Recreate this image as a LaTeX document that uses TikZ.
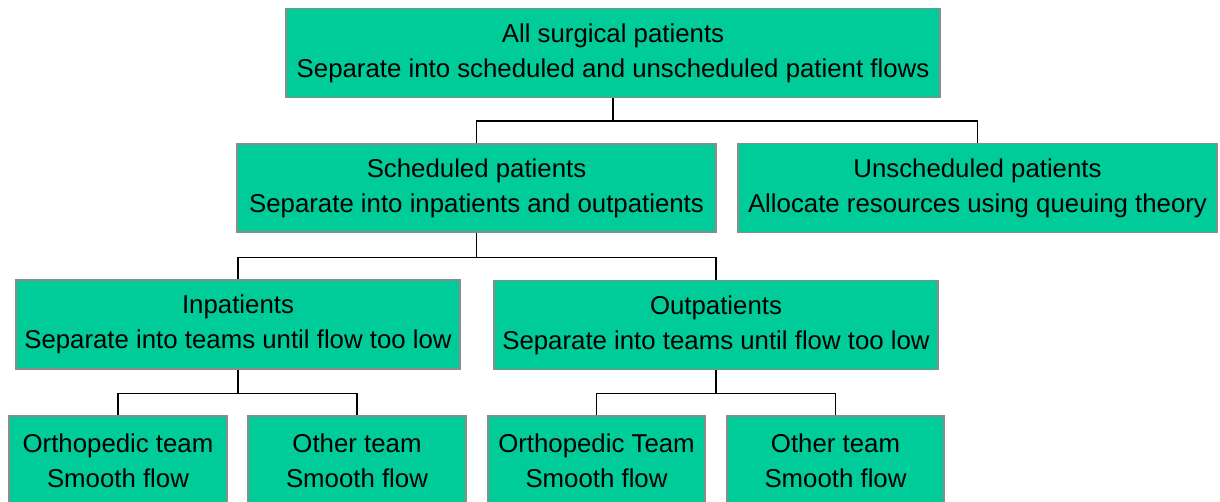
\documentclass[tikz,border=0pt]{standalone}
\usepackage{fontspec}
\setmainfont{Liberation Sans}
\definecolor{boxfill}{RGB}{0,204,153}
\definecolor{boxline}{RGB}{140,140,140}
\begin{document}
\begin{tikzpicture}[x=1pt,y=-1pt,
  box/.style={draw=boxline, line width=1.6pt, fill=boxfill, inner sep=0pt, align=center,
    font=\fontsize{25.8}{35}\selectfont, text=black},
  conn/.style={draw=black, line width=1.6pt}]
\useasboundingbox (0,0) rectangle (1220,502);
\node[box, minimum width=654pt, minimum height=89pt] (top) at (613,53) {All surgical patients\\Separate into scheduled and unscheduled patient flows};
\node[box, minimum width=479pt, minimum height=88.5pt] (sched) at (476.5,188) {Scheduled patients\\Separate into inpatients and outpatients};
\node[box, minimum width=479pt, minimum height=89pt] (unsched) at (977.5,188) {Unscheduled patients\\Allocate resources using queuing theory};
\node[box, minimum width=444pt, minimum height=89pt] (inpat) at (238,324.5) {Inpatients\\Separate into teams until flow too low};
\node[box, minimum width=444pt, minimum height=89pt] (outpat) at (716,325) {Outpatients\\Separate into teams until flow too low};
\node[box, minimum width=218pt, minimum height=89pt] (ortho1) at (118,460.5) {Orthopedic team\\Smooth flow};
\node[box, minimum width=218pt, minimum height=89pt] (other1) at (357,460.5) {Other team\\Smooth flow};
\node[box, minimum width=217pt, minimum height=89pt] (ortho2) at (596.5,460.5) {Orthopedic Team\\Smooth flow};
\node[box, minimum width=217pt, minimum height=89pt] (other2) at (835.5,460.5) {Other team\\Smooth flow};
\draw[conn] (top.south) -- ++(0,23) -| (sched.north);
\draw[conn] (top.south) -- ++(0,23) -| (unsched.north);
\draw[conn] (sched.south) -- ++(0,24.5) -| (inpat.north);
\draw[conn] (sched.south) -- ++(0,24.5) -| (outpat.north);
\draw[conn] (inpat.south) -- ++(0,23.5) -| (ortho1.north);
\draw[conn] (inpat.south) -- ++(0,23.5) -| (other1.north);
\draw[conn] (outpat.south) -- ++(0,23) -| (ortho2.north);
\draw[conn] (outpat.south) -- ++(0,23) -| (other2.north);
\end{tikzpicture}
\end{document}
